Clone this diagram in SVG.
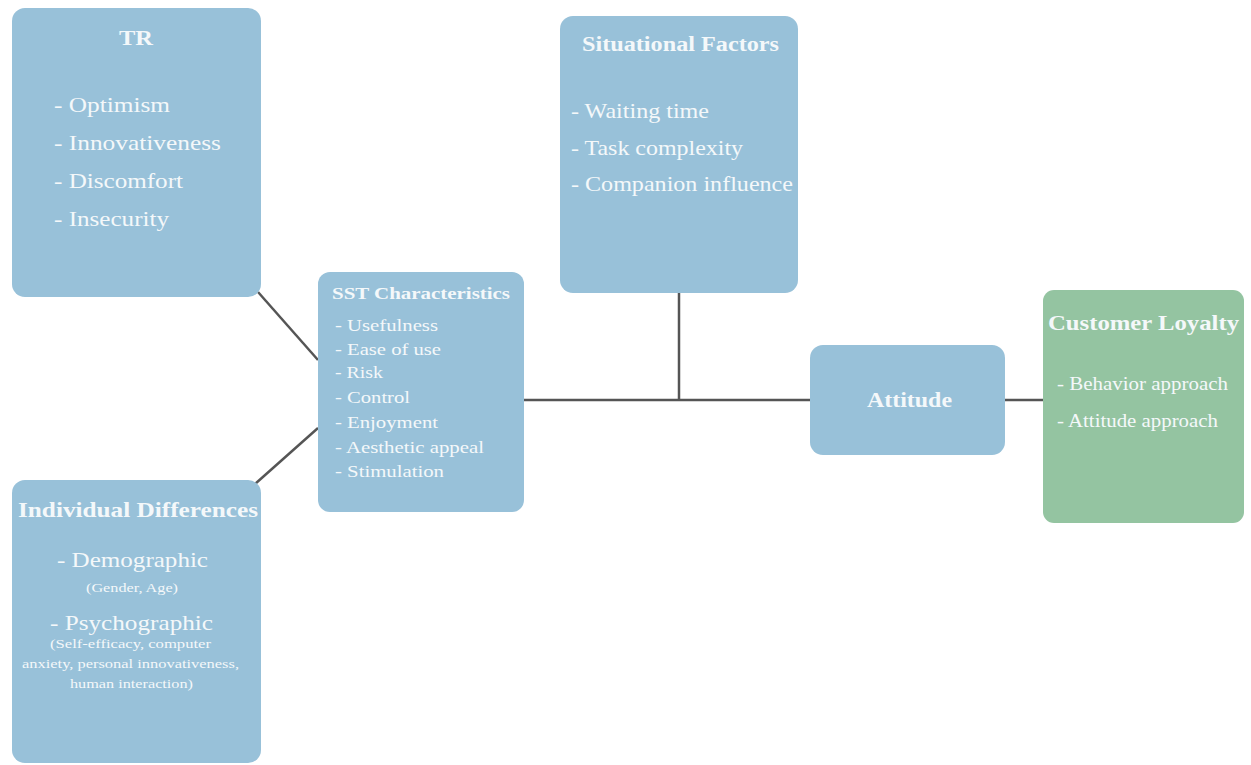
<svg xmlns="http://www.w3.org/2000/svg" width="1251" height="765" viewBox="0 0 1251 765">
<style>
.box{fill:#98c1d9;}
.green{fill:#94c4a1;}
text{fill:#f4f8fa;font-family:"Liberation Serif","Times New Roman","DejaVu Serif",serif;}
.t{font-weight:bold;}
.ln{stroke:#555;stroke-width:2.5;fill:none;}
</style>
<rect width="1251" height="765" fill="#ffffff"/>
<g id="connectors">
<line class="ln" x1="258" y1="292" x2="318" y2="360"/>
<line class="ln" x1="255" y1="484" x2="318" y2="428"/>
<line class="ln" x1="524" y1="400" x2="810" y2="400"/>
<line class="ln" x1="679" y1="293" x2="679" y2="400"/>
<line class="ln" x1="1005" y1="400" x2="1043" y2="400"/>
</g>
<g id="tr">
<rect class="box" x="12" y="8" width="249" height="289" rx="13"/>
<text class="t" x="119" y="45" font-size="22" textLength="34" lengthAdjust="spacingAndGlyphs">TR</text>
<text x="54" y="112" font-size="22" textLength="116" lengthAdjust="spacingAndGlyphs">- Optimism</text>
<text x="54" y="150" font-size="22" textLength="167" lengthAdjust="spacingAndGlyphs">- Innovativeness</text>
<text x="54" y="188" font-size="22" textLength="129" lengthAdjust="spacingAndGlyphs">- Discomfort</text>
<text x="54" y="226" font-size="22" textLength="115" lengthAdjust="spacingAndGlyphs">- Insecurity</text>
</g>
<g id="individual">
<rect class="box" x="12" y="480" width="249" height="283" rx="13"/>
<text class="t" x="18" y="517" font-size="21" textLength="240" lengthAdjust="spacingAndGlyphs">Individual Differences</text>
<text x="57" y="567" font-size="22" textLength="151" lengthAdjust="spacingAndGlyphs">- Demographic</text>
<text x="86" y="592" font-size="13" textLength="92" lengthAdjust="spacingAndGlyphs">(Gender, Age)</text>
<text x="50" y="630" font-size="22" textLength="163" lengthAdjust="spacingAndGlyphs">- Psychographic</text>
<text x="50" y="648" font-size="13" textLength="161" lengthAdjust="spacingAndGlyphs">(Self-efficacy, computer</text>
<text x="22" y="668" font-size="13" textLength="217" lengthAdjust="spacingAndGlyphs">anxiety, personal innovativeness,</text>
<text x="70" y="688" font-size="13" textLength="123" lengthAdjust="spacingAndGlyphs">human interaction)</text>
</g>
<g id="sst">
<rect class="box" x="318" y="272" width="206" height="240" rx="12"/>
<text class="t" x="332" y="299" font-size="17" textLength="178" lengthAdjust="spacingAndGlyphs">SST Characteristics</text>
<text x="335" y="331" font-size="17" textLength="103" lengthAdjust="spacingAndGlyphs">- Usefulness</text>
<text x="335" y="355" font-size="17" textLength="106" lengthAdjust="spacingAndGlyphs">- Ease of use</text>
<text x="335" y="378" font-size="17" textLength="48" lengthAdjust="spacingAndGlyphs">- Risk</text>
<text x="335" y="403" font-size="17" textLength="75" lengthAdjust="spacingAndGlyphs">- Control</text>
<text x="335" y="428" font-size="17" textLength="103" lengthAdjust="spacingAndGlyphs">- Enjoyment</text>
<text x="335" y="453" font-size="17" textLength="149" lengthAdjust="spacingAndGlyphs">- Aesthetic appeal</text>
<text x="335" y="477" font-size="17" textLength="109" lengthAdjust="spacingAndGlyphs">- Stimulation</text>
</g>
<g id="situational">
<rect class="box" x="560" y="16" width="238" height="277" rx="13"/>
<text class="t" x="582" y="51" font-size="20" textLength="197" lengthAdjust="spacingAndGlyphs">Situational Factors</text>
<text x="571" y="118" font-size="21" textLength="138" lengthAdjust="spacingAndGlyphs">- Waiting time</text>
<text x="571" y="155" font-size="21" textLength="172" lengthAdjust="spacingAndGlyphs">- Task complexity</text>
<text x="571" y="191" font-size="21" textLength="222" lengthAdjust="spacingAndGlyphs">- Companion influence</text>
</g>
<g id="attitude">
<rect class="box" x="810" y="345" width="195" height="110" rx="13"/>
<text class="t" x="867" y="407" font-size="20" textLength="85" lengthAdjust="spacingAndGlyphs">Attitude</text>
</g>
<g id="loyalty">
<rect class="green" x="1043" y="290" width="201" height="233" rx="11"/>
<text class="t" x="1048" y="330" font-size="21" textLength="191" lengthAdjust="spacingAndGlyphs">Customer Loyalty</text>
<text x="1057" y="390" font-size="18" textLength="171" lengthAdjust="spacingAndGlyphs">- Behavior approach</text>
<text x="1057" y="427" font-size="18" textLength="161" lengthAdjust="spacingAndGlyphs">- Attitude approach</text>
</g>
</svg>
